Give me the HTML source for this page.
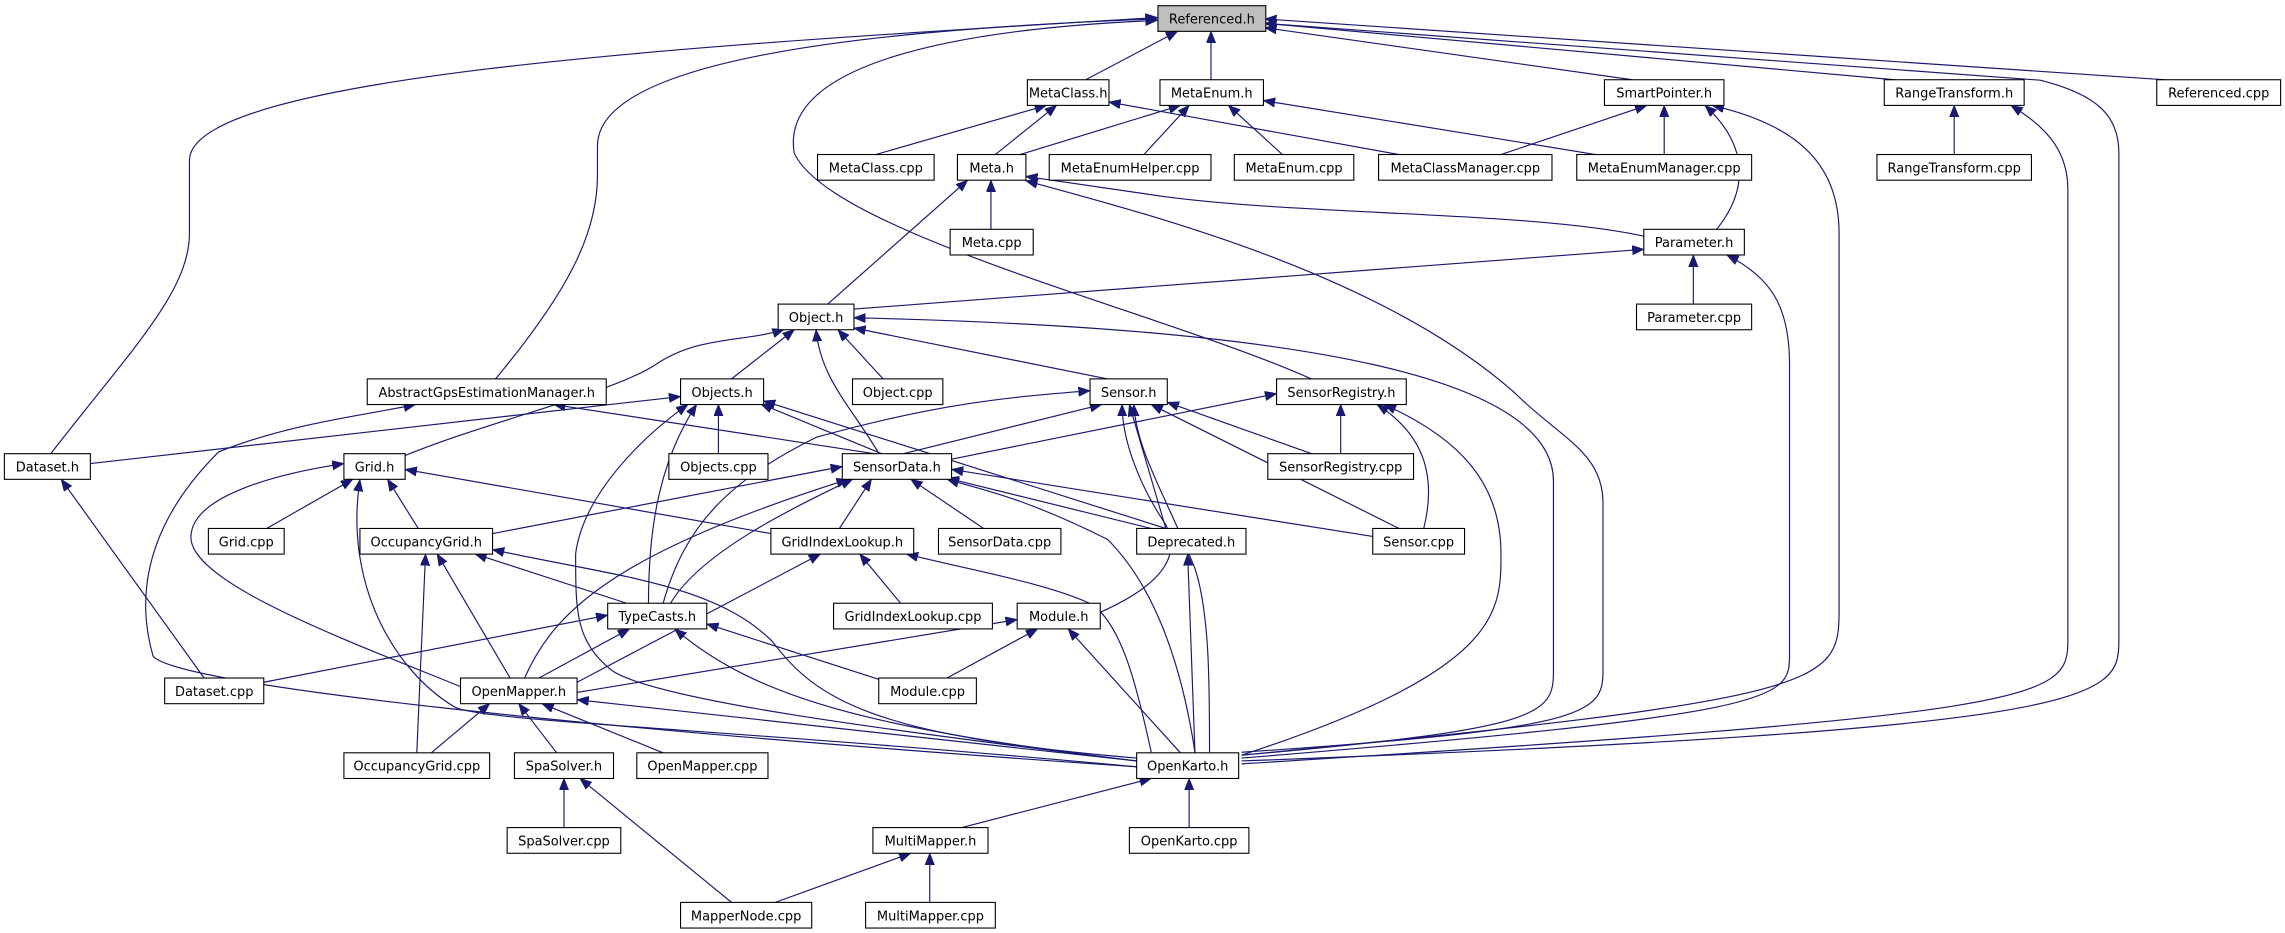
<!DOCTYPE html>
<html><head><meta charset="utf-8"><style>
html,body{margin:0;padding:0;background:#fff;}
svg{display:block;}
text{font-family:"DejaVu Sans","Liberation Sans",sans-serif;font-size:8.9px;fill:#000;}
.b{fill:#fff;stroke:#000;stroke-width:0.75;}
.e{fill:none;stroke:#191970;stroke-width:0.8;marker-end:url(#a);}
</style></head><body>
<svg width="2285" height="933" viewBox="0 0 1568 640" preserveAspectRatio="none" xmlns="http://www.w3.org/2000/svg">
<defs><marker id="a" markerUnits="userSpaceOnUse" markerWidth="9" markerHeight="7" refX="8" refY="3.2" orient="auto"><path d="M0,0 L8,3.2 L0,6.4 Z" fill="#191970" stroke="#191970" stroke-width="0.5"/></marker></defs>
<g>
<path class="e" d="M745,54.7 L808,21.5"/>
<path class="e" d="M831,54.7 L831,21.5"/>
<path class="e" d="M1120,54.7 L868,19"/>
<path class="e" d="M1300,54.7 L868,16"/>
<path class="e" d="M1485,54.7 L868,13"/>
<path class="e" d="M35,311 C90,240 130,200 130,160 L130,110 C130,50 500,30 794,12"/>
<path class="e" d="M340,260 C390,200 410,160 410,120 L410,100 C410,40 600,20 794,13"/>
<path class="e" d="M900,260 C800,215 570,160 545,105 C535,45 650,20 794,14"/>
<path class="e" d="M852,522 C1440,500 1454,480 1454,440 L1454,105 C1454,80 1440,65 1400,55 L868,16"/>
<path class="e" d="M601,106 L718,72.3"/>
<path class="e" d="M683,106 L725,72.3"/>
<path class="e" d="M960,106 L761,70"/>
<path class="e" d="M700,106 L810,72.3"/>
<path class="e" d="M785,106 L816,72.3"/>
<path class="e" d="M880,106 L843,72.3"/>
<path class="e" d="M1095,106 L867,69"/>
<path class="e" d="M1030,106 L1130,72.3"/>
<path class="e" d="M1142,106 L1142,72.3"/>
<path class="e" d="M1178,157.3 C1200,130 1200,100 1170,72.3"/>
<path class="e" d="M852,518 C1250,480 1262,470 1262,420 L1262,160 C1262,110 1230,85 1175,72.3"/>
<path class="e" d="M1341,106 L1341,72.3"/>
<path class="e" d="M852,524 C1400,490 1419,480 1419,440 L1419,130 C1419,100 1400,85 1380,72.3"/>
<path class="e" d="M680,157.3 L680,123.6"/>
<path class="e" d="M568,208.6 L664,123.6"/>
<path class="e" d="M1128,162 C1050,145 900,148 800,135 L704,121"/>
<path class="e" d="M852,516 C1090,500 1100,490 1100,460 L1100,345 C1100,310 1070,300 1040,270 C950,190 800,150 704,124"/>
<path class="e" d="M1162,208.6 L1162,175"/>
<path class="e" d="M586,212 L1128,171"/>
<path class="e" d="M852,520 C1220,490 1228,480 1228,450 L1228,250 C1228,210 1215,190 1185,175"/>
<path class="e" d="M502,259.9 L545,226.2"/>
<path class="e" d="M606,259.9 L575,226.2"/>
<path class="e" d="M603,311 C585,280 563,260 560,226.2"/>
<path class="e" d="M760,259.9 L586,225"/>
<path class="e" d="M272,315 C330,290 420,270 450,250 C480,230 510,235 538,226"/>
<path class="e" d="M852,518 C1060,500 1066,490 1066,460 L1066,330 C1066,260 900,225 586,218"/>
<path class="e" d="M62,318 L467,272"/>
<path class="e" d="M605,311.2 L522,277"/>
<path class="e" d="M493,311.2 L493,277.5"/>
<path class="e" d="M445,414 C445,370 450,320 478,277.5"/>
<path class="e" d="M780,522 C600,500 450,480 420,460 C395,440 395,420 395,380 C400,340 440,300 472,277.5"/>
<path class="e" d="M800,362.5 L524,275"/>
<path class="e" d="M600,311.2 L380,277.5"/>
<path class="e" d="M780,526 C400,500 120,470 105,450 C85,380 130,330 150,310 C200,290 250,285 285,277.5"/>
<path class="e" d="M316,471 C240,440 130,400 131,368 C132,340 190,325 236,318"/>
<path class="e" d="M183,362.5 L242,328.8"/>
<path class="e" d="M287,362.5 L266,328.8"/>
<path class="e" d="M529,366 L278,322"/>
<path class="e" d="M780,526 C500,500 330,495 312,485 C270,460 236,400 247,329"/>
<path class="e" d="M620,311.2 L756,277.5"/>
<path class="e" d="M455,414 C470,360 500,330 560,300 C650,275 700,272 748,268"/>
<path class="e" d="M800,362.5 L775,277.5"/>
<path class="e" d="M960,362.5 L790,277.5"/>
<path class="e" d="M900,311.2 L801,276"/>
<path class="e" d="M830,516 C830,470 830,420 820,390 C800,340 780,310 778,277.5"/>
<path class="e" d="M755,420 C800,400 810,380 800,360 C780,330 770,300 770,277.5"/>
<path class="e" d="M653,315 L876,270"/>
<path class="e" d="M920,311.2 L920,277.5"/>
<path class="e" d="M977,362.5 C985,330 980,300 945,277.5"/>
<path class="e" d="M852,518 C1030,460 1030,420 1030,380 C1030,330 1000,300 950,277.5"/>
<path class="e" d="M338,366 L578,320"/>
<path class="e" d="M576,362.5 L598,328.8"/>
<path class="e" d="M675,362.5 L625,328.8"/>
<path class="e" d="M790,362.5 L650,328"/>
<path class="e" d="M942,368 L653,322"/>
<path class="e" d="M460,414 C480,380 540,350 585,328.8"/>
<path class="e" d="M360,465 C380,420 420,380 582,328.8"/>
<path class="e" d="M820,516 C810,450 790,400 760,370 C700,340 670,335 650,328.8"/>
<path class="e" d="M140,465 L42,328.8"/>
<path class="e" d="M430,413.8 L326,380"/>
<path class="e" d="M350,465 L300,380"/>
<path class="e" d="M286,516.4 L292,380"/>
<path class="e" d="M780,520 C600,505 560,480 530,440 C490,400 420,395 338,377"/>
<path class="e" d="M618,413.8 L590,380"/>
<path class="e" d="M396,468 L563,380"/>
<path class="e" d="M790,516 C780,470 770,430 750,415 C720,400 660,390 622,380"/>
<path class="e" d="M820,516.4 L815,380"/>
<path class="e" d="M181,468 L417,422"/>
<path class="e" d="M370,465 L432,431.4"/>
<path class="e" d="M603,466 L485,428"/>
<path class="e" d="M780,522 C600,500 520,480 463,431.4"/>
<path class="e" d="M396,475 L698,425"/>
<path class="e" d="M650,465 L712,431.4"/>
<path class="e" d="M810,516.4 L733,431.4"/>
<path class="e" d="M296,516.4 L336,482.7"/>
<path class="e" d="M382,516.4 L356,482.7"/>
<path class="e" d="M455,516.4 L372,482.7"/>
<path class="e" d="M780,522 L396,480"/>
<path class="e" d="M387,567.7 L387,534"/>
<path class="e" d="M502,619 L398,534"/>
<path class="e" d="M660,567.7 L790,534"/>
<path class="e" d="M816,567.7 L816,534"/>
<path class="e" d="M532,619 L625,585.3"/>
<path class="e" d="M638,619 L638,585.3"/>
</g>
<g>
<rect x="794.6" y="3.9" width="74" height="17.6" style="fill:#bfbfbf;stroke:#000;stroke-width:0.75"/><text x="831.6" y="16.2" text-anchor="middle">Referenced.h</text>
<rect class="b" x="705" y="54.7" width="56" height="17.6"/><text x="733" y="67" text-anchor="middle">MetaClass.h</text>
<rect class="b" x="796" y="54.7" width="71" height="17.6"/><text x="831.5" y="67" text-anchor="middle">MetaEnum.h</text>
<rect class="b" x="1101" y="54.7" width="82" height="17.6"/><text x="1142" y="67" text-anchor="middle">SmartPointer.h</text>
<rect class="b" x="1293" y="54.7" width="96" height="17.6"/><text x="1341" y="67" text-anchor="middle">RangeTransform.h</text>
<rect class="b" x="1480" y="54.7" width="85" height="17.6"/><text x="1522.5" y="67" text-anchor="middle">Referenced.cpp</text>
<rect class="b" x="561" y="106" width="80" height="17.6"/><text x="601" y="118.3" text-anchor="middle">MetaClass.cpp</text>
<rect class="b" x="657" y="106" width="47" height="17.6"/><text x="680.5" y="118.3" text-anchor="middle">Meta.h</text>
<rect class="b" x="720" y="106" width="111" height="17.6"/><text x="775.5" y="118.3" text-anchor="middle">MetaEnumHelper.cpp</text>
<rect class="b" x="847" y="106" width="82" height="17.6"/><text x="888" y="118.3" text-anchor="middle">MetaEnum.cpp</text>
<rect class="b" x="946" y="106" width="119" height="17.6"/><text x="1005.5" y="118.3" text-anchor="middle">MetaClassManager.cpp</text>
<rect class="b" x="1082" y="106" width="120" height="17.6"/><text x="1142" y="118.3" text-anchor="middle">MetaEnumManager.cpp</text>
<rect class="b" x="1288" y="106" width="106" height="17.6"/><text x="1341" y="118.3" text-anchor="middle">RangeTransform.cpp</text>
<rect class="b" x="652" y="157.3" width="57" height="17.6"/><text x="680.5" y="169.6" text-anchor="middle">Meta.cpp</text>
<rect class="b" x="1128" y="157.3" width="69" height="17.6"/><text x="1162.5" y="169.6" text-anchor="middle">Parameter.h</text>
<rect class="b" x="534" y="208.6" width="52" height="17.6"/><text x="560" y="220.9" text-anchor="middle">Object.h</text>
<rect class="b" x="1123" y="208.6" width="79" height="17.6"/><text x="1162.5" y="220.9" text-anchor="middle">Parameter.cpp</text>
<rect class="b" x="252" y="259.9" width="164" height="17.6"/><text x="334" y="272.2" text-anchor="middle">AbstractGpsEstimationManager.h</text>
<rect class="b" x="467" y="259.9" width="57" height="17.6"/><text x="495.5" y="272.2" text-anchor="middle">Objects.h</text>
<rect class="b" x="585" y="259.9" width="62" height="17.6"/><text x="616" y="272.2" text-anchor="middle">Object.cpp</text>
<rect class="b" x="748" y="259.9" width="53" height="17.6"/><text x="774.5" y="272.2" text-anchor="middle">Sensor.h</text>
<rect class="b" x="876" y="259.9" width="89" height="17.6"/><text x="920.5" y="272.2" text-anchor="middle">SensorRegistry.h</text>
<rect class="b" x="3" y="311.2" width="59" height="17.6"/><text x="32.5" y="323.5" text-anchor="middle">Dataset.h</text>
<rect class="b" x="236" y="311.2" width="42" height="17.6"/><text x="257" y="323.5" text-anchor="middle">Grid.h</text>
<rect class="b" x="459" y="311.2" width="68" height="17.6"/><text x="493" y="323.5" text-anchor="middle">Objects.cpp</text>
<rect class="b" x="578" y="311.2" width="75" height="17.6"/><text x="615.5" y="323.5" text-anchor="middle">SensorData.h</text>
<rect class="b" x="870" y="311.2" width="100" height="17.6"/><text x="920" y="323.5" text-anchor="middle">SensorRegistry.cpp</text>
<rect class="b" x="143" y="362.5" width="52" height="17.6"/><text x="169" y="374.8" text-anchor="middle">Grid.cpp</text>
<rect class="b" x="247" y="362.5" width="91" height="17.6"/><text x="292.5" y="374.8" text-anchor="middle">OccupancyGrid.h</text>
<rect class="b" x="529" y="362.5" width="98" height="17.6"/><text x="578" y="374.8" text-anchor="middle">GridIndexLookup.h</text>
<rect class="b" x="644" y="362.5" width="84" height="17.6"/><text x="686" y="374.8" text-anchor="middle">SensorData.cpp</text>
<rect class="b" x="780" y="362.5" width="75" height="17.6"/><text x="817.5" y="374.8" text-anchor="middle">Deprecated.h</text>
<rect class="b" x="942" y="362.5" width="63" height="17.6"/><text x="973.5" y="374.8" text-anchor="middle">Sensor.cpp</text>
<rect class="b" x="417" y="413.8" width="68" height="17.6"/><text x="451" y="426.1" text-anchor="middle">TypeCasts.h</text>
<rect class="b" x="572" y="413.8" width="109" height="17.6"/><text x="626.5" y="426.1" text-anchor="middle">GridIndexLookup.cpp</text>
<rect class="b" x="698" y="413.8" width="57" height="17.6"/><text x="726.5" y="426.1" text-anchor="middle">Module.h</text>
<rect class="b" x="113" y="465.1" width="68" height="17.6"/><text x="147" y="477.4" text-anchor="middle">Dataset.cpp</text>
<rect class="b" x="316" y="465.1" width="80" height="17.6"/><text x="356" y="477.4" text-anchor="middle">OpenMapper.h</text>
<rect class="b" x="603" y="465.1" width="67" height="17.6"/><text x="636.5" y="477.4" text-anchor="middle">Module.cpp</text>
<rect class="b" x="236" y="516.4" width="100" height="17.6"/><text x="286" y="528.7" text-anchor="middle">OccupancyGrid.cpp</text>
<rect class="b" x="353" y="516.4" width="68" height="17.6"/><text x="387" y="528.7" text-anchor="middle">SpaSolver.h</text>
<rect class="b" x="437" y="516.4" width="90" height="17.6"/><text x="482" y="528.7" text-anchor="middle">OpenMapper.cpp</text>
<rect class="b" x="780" y="516.4" width="70" height="17.6"/><text x="815" y="528.7" text-anchor="middle">OpenKarto.h</text>
<rect class="b" x="348" y="567.7" width="78" height="17.6"/><text x="387" y="580" text-anchor="middle">SpaSolver.cpp</text>
<rect class="b" x="599" y="567.7" width="79" height="17.6"/><text x="638.5" y="580" text-anchor="middle">MultiMapper.h</text>
<rect class="b" x="775" y="567.7" width="82" height="17.6"/><text x="816" y="580" text-anchor="middle">OpenKarto.cpp</text>
<rect class="b" x="467" y="619" width="90" height="17.6"/><text x="512" y="631.3" text-anchor="middle">MapperNode.cpp</text>
<rect class="b" x="594" y="619" width="89" height="17.6"/><text x="638.5" y="631.3" text-anchor="middle">MultiMapper.cpp</text>
</g>
</svg>
</body></html>
